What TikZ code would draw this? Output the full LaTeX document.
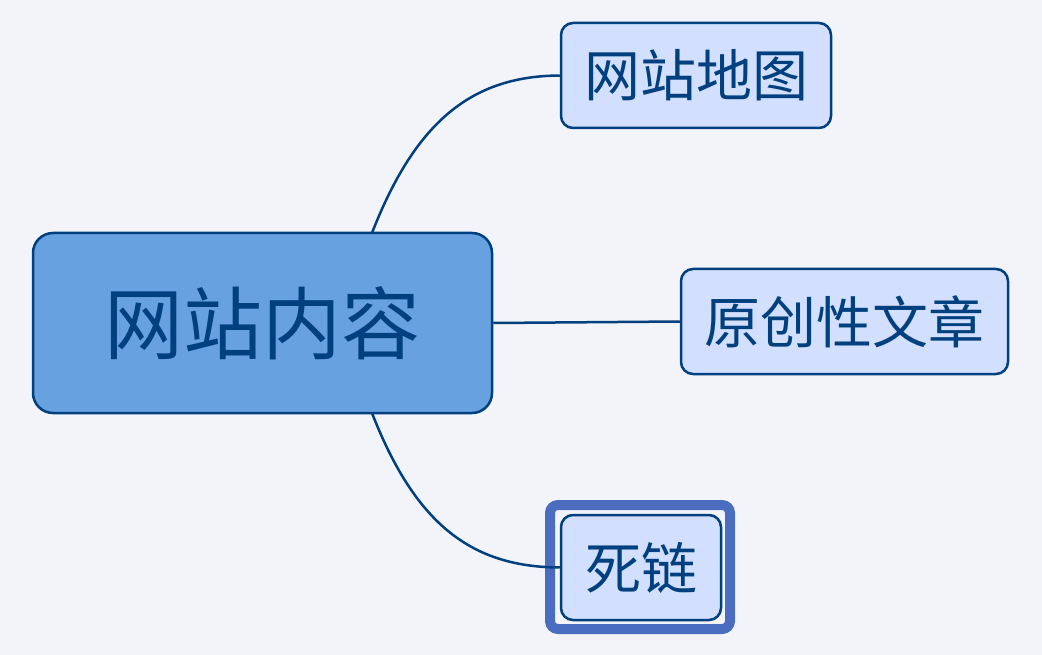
\documentclass[tikz,border=0pt]{standalone}
\usepackage{fontspec}
\newfontfamily\cjk{Noto Sans CJK SC}
\definecolor{bgc}{HTML}{F2F4FA}
\definecolor{linec}{HTML}{00407F}
\definecolor{rootc}{HTML}{67A1DF}
\definecolor{childc}{HTML}{D2DFFF}
\definecolor{selc}{HTML}{4A6DBF}
\begin{document}
\begin{tikzpicture}[x=1pt,y=-1pt,
  rootbox/.style={draw=linec,line width=2.5pt,fill=rootc,rounded corners=20pt,minimum width=459pt,minimum height=180pt,inner sep=0pt,text=linec,font=\cjk\fontsize{79}{88}\selectfont},
  childbox/.style={draw=linec,line width=2.5pt,fill=childc,rounded corners=12pt,minimum height=105pt,inner sep=0pt,text=linec,font=\cjk\fontsize{56}{64}\selectfont},
  conn/.style={draw=linec,line width=2.5pt}]
\fill[bgc] (0,0) rectangle (1042,655);
\useasboundingbox (0,0) rectangle (1042,655);
\node[rootbox] (root) at (262.5,323) {网站内容};
\node[childbox,minimum width=270pt] (c1) at (696,75.5) {网站地图};
\node[childbox,minimum width=327pt] (c2) at (844.5,321.5) {原创性文章};
\draw[selc,line width=10pt,rounded corners=8pt] (550,505) rectangle (730,629);
\node[childbox,minimum width=160pt] (c3) at (641,567.5) {死链};
\coordinate (rt) at (372,233);
\coordinate (rb) at (372,413);
\draw[conn] (rt) .. controls (416,120) and (473,76) .. (c1.west);
\draw[conn] (rb) .. controls (416,526) and (473,567) .. (c3.west);
\draw[conn] (root.east) -- (c2.west);
\end{tikzpicture}
\end{document}
